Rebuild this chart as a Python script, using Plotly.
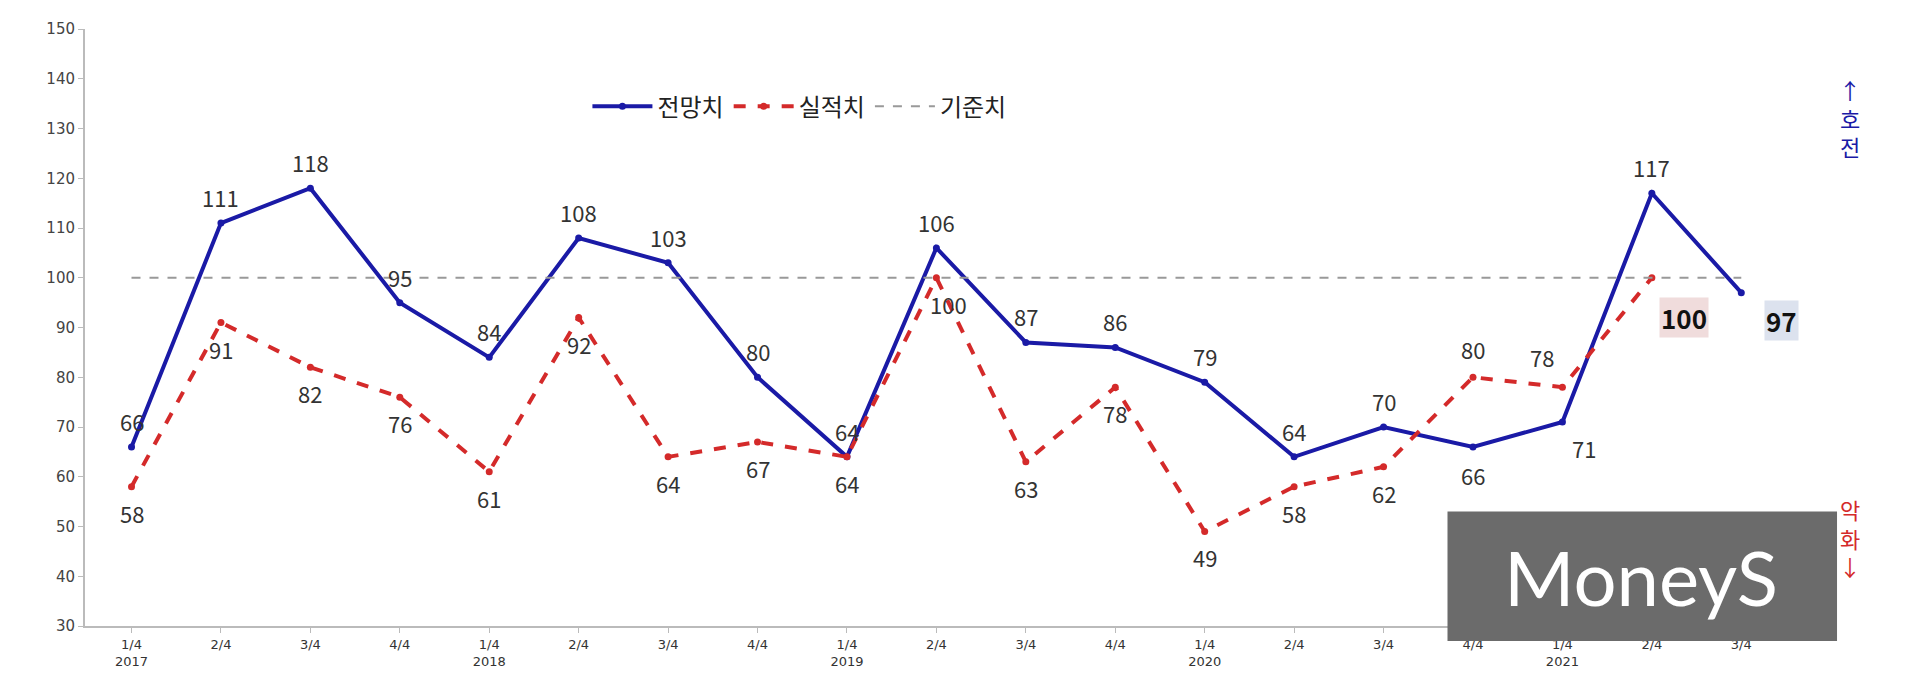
import plotly.graph_objects as go

quarters = ["1/4", "2/4", "3/4", "4/4"] * 4 + ["1/4", "2/4", "3/4"]
years = ["2017", "", "", "", "2018", "", "", "", "2019", "", "", "",
         "2020", "", "", "", "2021", "", ""]
forecast = [66, 111, 118, 95, 84, 108, 103, 80, 64, 106, 87, 86, 79, 64, 70, 66, 71, 117, 97]
actual = [58, 91, 82, 76, 61, 92, 64, 67, 64, 100, 63, 78, 49, 58, 62, 80, 78, 100]
baseline = 100

x = list(range(len(forecast)))
ticktext = [f"{q}<br>{y}" for q, y in zip(quarters, years)]

# label offsets (pixels): + above, - below
f_shift = [[0, 26]] * len(forecast)
f_shift[15] = [0, -28]
f_shift[16] = [22, -26]
a_shift = [[0, -26]] * len(actual)
a_shift[9] = [12, -26]
a_shift[15] = [0, 28]
a_shift[16] = [-20, 30]

fig = go.Figure()
fig.add_trace(go.Scatter(
    x=x, y=forecast, mode="lines+markers", name="전망치",
    line=dict(color="#1a1aa6", width=4), marker=dict(size=7, color="#1a1aa6")))
fig.add_trace(go.Scatter(
    x=x[:len(actual)], y=actual, mode="lines+markers", name="실적치",
    line=dict(color="#d42a2a", width=4, dash="dash"), marker=dict(size=7, color="#d42a2a")))
fig.add_trace(go.Scatter(
    x=[0, len(forecast) - 1], y=[baseline, baseline], mode="lines", name="기준치",
    line=dict(color="#999", width=2, dash="dash")))

for i, v in enumerate(forecast[:-1]):
    fig.add_annotation(x=x[i], y=v, text=str(v), showarrow=False,
                       xshift=f_shift[i][0], yshift=f_shift[i][1],
                       font=dict(size=22, color="#333"))
for i, v in enumerate(actual[:-1]):
    fig.add_annotation(x=x[i], y=v, text=str(v), showarrow=False,
                       xshift=a_shift[i][0], yshift=a_shift[i][1],
                       font=dict(size=22, color="#333"))

fig.add_annotation(x=17, y=actual[-1], text="<b>100</b>", showarrow=False, xshift=32, yshift=-40,
                   bgcolor="#f0dcdc", font=dict(size=26, color="#111"))
fig.add_annotation(x=18, y=forecast[-1], text="<b>97</b>", showarrow=False, xshift=40, yshift=-28,
                   bgcolor="#dce2ee", font=dict(size=26, color="#111"))

# side labels
fig.add_annotation(xref="paper", yref="paper", x=1.045, y=0.93, text="↑<br>호<br>전",
                   showarrow=False, font=dict(size=22, color="#1a1aa6", family="Noto Sans CJK KR"))
fig.add_annotation(xref="paper", yref="paper", x=1.045, y=0.07, text="악<br>화<br>↓",
                   showarrow=False, font=dict(size=22, color="#d42a2a", family="Noto Sans CJK KR"))

# watermark
fig.add_shape(type="rect", xref="paper", yref="paper", x0=0.801, x1=1.03, y0=-0.025, y1=0.192,
              fillcolor="#6b6b6b", line=dict(width=0), layer="above")
fig.add_annotation(xref="paper", yref="paper", x=0.915, y=0.083, text="MoneyS", showarrow=False,
                   xanchor="center", yanchor="middle",
                   font=dict(size=76, color="white", family="Lato"))

fig.update_layout(
    width=1920, height=684,
    margin=dict(l=77, r=142, t=18, b=66),
    plot_bgcolor="white", paper_bgcolor="white",
    font=dict(family="Noto Sans CJK KR"),
    showlegend=True,
    legend=dict(orientation="h", x=0.42, y=0.87, xanchor="center", yanchor="middle",
                font=dict(size=24, color="#222"), itemwidth=60),
    xaxis=dict(tickmode="array", tickvals=x, ticktext=ticktext, range=[-0.52, 18.5],
               showline=True, linecolor="#bbb", linewidth=2, ticks="outside", tickcolor="#bbb",
               tickfont=dict(size=13, color="#333", family="DejaVu Sans"), showgrid=False),
    yaxis=dict(range=[30, 150], dtick=10, showline=True, linecolor="#bbb", linewidth=2,
               ticks="outside", tickcolor="#bbb", showgrid=False, zeroline=False,
               tickfont=dict(size=15, color="#444", family="DejaVu Sans")),
)

fig.write_html("out.html")
